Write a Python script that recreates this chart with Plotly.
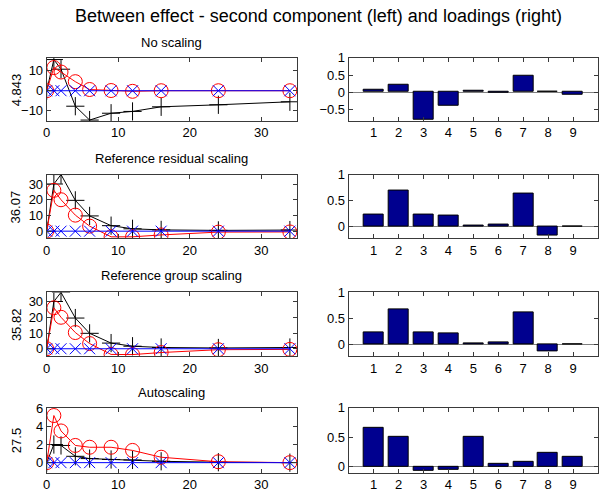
import plotly.graph_objects as go

# ---------------- data ----------------
times = [0, 1, 2, 4, 6, 9, 12, 16, 24, 34]

panel_titles = ["No scaling", "Reference residual scaling", "Reference group scaling", "Autoscaling"]
panel_ylabels = ["4.843", "36.07", "35.82", "27.5"]

black_noscale = [0, 15.5, 10.7, -7.7, -14.6, -11.2, -10.3, -8.0, -7.0, -5.5]
red_noscale = [0, 11.5, 9.3, 4.5, 0.6, 0.1, -0.3, 0.0, 0.0, 0.0]
blue_noscale = [0, 0, 0, 0, 0, 0, 0, 0, 0, 0]

black_resid = [0, 30, 36, 19.6, 9.7, 3.5, 1.5, 0.8, 0.5, 0.7]
red_resid = [0, 26, 20, 10.2, 3.2, -3.6, -3.6, -2.4, -0.6, -0.5]
blue_resid = [0, 0, 0, 0, 0, 0, 0, 0, 0, 0]

black_group = [0, 30, 35.8, 19.5, 9.8, 3.6, 1.6, 0.8, 0.5, 0.8]
red_group = [0, 26, 20, 10.3, 3.3, -3.6, -3.7, -2.4, -0.6, -0.4]
blue_group = [0, 0, 0, 0, 0, 0, 0, 0, 0, 0]

black_auto = [0, 2.0, 1.9, 0.7, 0.45, 0.35, 0.3, 0.15, 0.05, 0]
red_auto = [0, 5.2, 3.5, 1.9, 1.7, 1.7, 1.35, 0.6, 0.1, 0]
blue_auto = [0, 0, 0, 0, 0, 0, 0, 0, 0, 0]

left_yranges = [[-15, 16.4], [-4.6, 36], [-4.6, 35.8], [-1.1, 6.05]]
left_yticks = [[-10, 0, 10], [0, 10, 20, 30], [0, 10, 20, 30], [0, 2, 4, 6]]

variables = [1, 2, 3, 4, 5, 6, 7, 8, 9]
load_noscale = [0.07, 0.21, -0.80, -0.38, 0.03, -0.02, 0.47, 0.01, -0.06]
load_resid = [0.23, 0.69, 0.23, 0.22, 0.02, 0.04, 0.63, -0.16, 0.005]
load_group = [0.23, 0.68, 0.24, 0.22, 0.02, 0.045, 0.61, -0.14, 0.01]
load_auto = [0.66, 0.50, -0.07, -0.06, 0.51, 0.056, 0.08, 0.23, 0.16]

right_yranges = [[-0.83, 1], [-0.22, 1], [-0.22, 1], [-0.1, 1]]
right_yticks = [[-0.5, 0, 0.5, 1], [0, 0.5, 1], [0, 0.5, 1], [0, 0.5, 1]]

main_title = "Between effect - second component (left) and loadings (right)"

# ---------------- layout geometry ----------------
W, H = 600, 492
FONT = "Liberation Sans, Arial, sans-serif"
left_x = [43 / W, 295 / W]
right_x = [347 / W, 598 / W]
rows_px = [(51.7, 116), (170.7, 235.7), (290.7, 355.5), (408.3, 474.3)]
title_px = [36, 154, 274, 393]

blacks = [black_noscale, black_resid, black_group, black_auto]
reds = [red_noscale, red_resid, red_group, red_auto]
blues = [blue_noscale, blue_resid, blue_group, blue_auto]
loads = [load_noscale, load_resid, load_group, load_auto]

fig = go.Figure()
layout = {}
annotations = []

axis_common = dict(
    showline=True, linecolor="#3a3a3a", linewidth=1, mirror="ticks",
    ticks="inside", ticklen=4, tickcolor="#3a3a3a", showgrid=False,
    tickfont=dict(family=FONT, size=13, color="black"),
)

for r in range(4):
    top, bot = rows_px[r]
    ydom = [1 - bot / H, 1 - top / H]
    li = 2 * r + 1
    ri = 2 * r + 2
    lx = "x" if li == 1 else f"x{li}"
    ly = "y" if li == 1 else f"y{li}"
    rx = f"x{ri}"
    ry = f"y{ri}"

    # left line plot
    fig.add_trace(go.Scatter(
        x=times, y=blacks[r], mode="lines+markers", xaxis=lx, yaxis=ly,
        line=dict(color="black", width=1),
        marker=dict(symbol="cross-thin-open", size=13, line=dict(color="black", width=1)),
        showlegend=False, cliponaxis=True))
    fig.add_trace(go.Scatter(
        x=times, y=reds[r], mode="lines+markers", xaxis=lx, yaxis=ly,
        line=dict(color="#ff0000", width=1),
        marker=dict(symbol="circle-open", size=14, line=dict(color="#ff0000", width=1)),
        showlegend=False, cliponaxis=True))
    fig.add_trace(go.Scatter(
        x=times, y=blues[r], mode="lines+markers", xaxis=lx, yaxis=ly,
        line=dict(color="#0000ff", width=1),
        marker=dict(symbol="x-thin-open", size=11, line=dict(color="#0000ff", width=1)),
        showlegend=False, cliponaxis=True))

    # right bar plot
    fig.add_trace(go.Bar(
        x=variables, y=loads[r], xaxis=rx, yaxis=ry, width=0.8,
        marker=dict(color="#00008f", line=dict(color="black", width=1)),
        showlegend=False))

    layout["xaxis" if li == 1 else f"xaxis{li}"] = dict(
        axis_common, domain=left_x, anchor=ly, range=[0, 35],
        tickvals=[0, 10, 20, 30], zeroline=False)
    layout["yaxis" if li == 1 else f"yaxis{li}"] = dict(
        axis_common, domain=ydom, anchor=lx, range=left_yranges[r],
        tickvals=left_yticks[r], zeroline=False)
    layout[f"xaxis{ri}"] = dict(
        axis_common, domain=right_x, anchor=ry, range=[0, 10],
        tickvals=variables, zeroline=False)
    layout[f"yaxis{ri}"] = dict(
        axis_common, domain=ydom, anchor=rx, range=right_yranges[r],
        tickvals=right_yticks[r], zeroline=True, zerolinecolor="#808080",
        zerolinewidth=1)

    annotations.append(dict(
        text=panel_titles[r], x=(left_x[0] + left_x[1]) / 2, y=1 - title_px[r] / H,
        xref="paper", yref="paper", xanchor="center", yanchor="middle",
        showarrow=False, font=dict(family=FONT, size=13, color="black")))
    annotations.append(dict(
        text=panel_ylabels[r], x=12 / W, y=1 - (top + bot) / 2 / H,
        xref="paper", yref="paper", xanchor="center", yanchor="middle",
        textangle=-90, showarrow=False,
        font=dict(family=FONT, size=13, color="black")))

annotations.append(dict(
    text=main_title, x=317 / W, y=1 - 9 / H, xref="paper", yref="paper",
    xanchor="center", yanchor="middle", showarrow=False,
    font=dict(family=FONT, size=18, color="black")))

fig.update_layout(
    width=W, height=H, margin=dict(l=0, r=0, t=0, b=0),
    paper_bgcolor="white", plot_bgcolor="white",
    annotations=annotations, bargap=0, **layout)

fig.write_html("out.html", config={"displayModeBar": False},
               post_script="document.body.style.margin='0px';")
